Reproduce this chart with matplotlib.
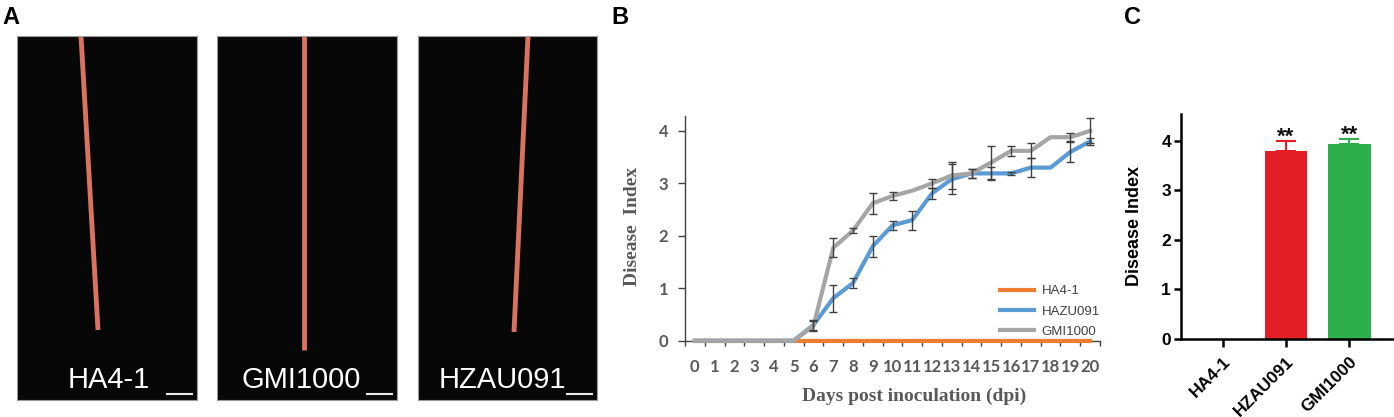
import numpy as np
import matplotlib.pyplot as plt

W, H = 1394, 417

# panel A: photo captions
photo_labels = ["HA4-1", "GMI1000", "HZAU091"]

# panel B: disease index per day post inoculation
days = list(range(21))
ha41 = [0, 0, 0, 0, 0, 0, 0, 0, 0, 0, 0, 0, 0, 0, 0, 0, 0, 0, 0, 0, 0]
hzau091 = [0, 0, 0, 0, 0, 0, 0.30, 0.81, 1.10, 1.80, 2.20, 2.30, 2.81, 3.08, 3.19, 3.19, 3.19, 3.30, 3.30, 3.60, 3.80]
hzau091_err = [0, 0, 0, 0, 0, 0, 0.09, 0.26, 0.09, 0.20, 0.09, 0.18, 0.10, 0.28, 0.09, 0.12, 0.03, 0.18, 0, 0.19, 0.07]
gmi1000 = [0, 0, 0, 0, 0, 0, 0.28, 1.77, 2.10, 2.62, 2.76, 2.86, 3.00, 3.15, 3.19, 3.40, 3.62, 3.62, 3.88, 3.88, 4.00]
gmi1000_err = [0, 0, 0, 0, 0, 0, 0.10, 0.18, 0.05, 0.20, 0.08, 0, 0.09, 0.25, 0.09, 0.31, 0.10, 0.14, 0, 0.08, 0.24]
legend_labels = ["HA4-1", "HAZU091", "GMI1000"]

# panel C: final disease index
strains = ["HA4-1", "HZAU091", "GMI1000"]
final_index = [0, 3.80, 3.93]
final_err = [0, 0.20, 0.12]
signif = ["", "**", "**"]


def fig_box(left, top, right, bottom):
    # pixel box -> figure fraction [l, b, w, h]
    return [left / W, 1 - bottom / H, (right - left) / W, (bottom - top) / H]


fig = plt.figure(figsize=(W / 100, H / 100), dpi=100)

# ---------- A: photo placeholders ----------
photo_x = [(16.7, 196.7), (217, 396.7), (418, 596.5)]
label_x = [109, 301, 502]
stakes = [((81, 36), (98, 330)), ((303.5, 36), (303.5, 350)), ((528, 36), (514, 332))]
for i, (l, r) in enumerate(photo_x):
    pax = fig.add_axes(fig_box(l, 36, r, 400))
    pax.set_facecolor("#070707")
    pax.set_xlim(l, r)
    pax.set_ylim(400, 36)
    pax.set_xticks([])
    pax.set_yticks([])
    for s in pax.spines.values():
        s.set_color("#9a9a9a")
        s.set_linewidth(0.8)
    (x0, y0), (x1, y1) = stakes[i]
    pax.plot([x0, x1], [y0, y1], color="#d9735f", lw=3.5, solid_capstyle="butt")
    pax.text(label_x[i], 388, photo_labels[i], color="white", fontsize=21,
             family="Liberation Sans", ha="center", va="baseline")
    pax.plot([r - 30, r - 5], [394, 394], color="#e8e8e8", lw=1.5)

# ---------- B: time course ----------
axb = fig.add_axes(fig_box(685, 115.7, 1100, 340.7))
gray_txt = "#595959"
l1, = axb.plot(days, ha41, color="#ED7D31", lw=3, clip_on=False, zorder=3)
l2, = axb.plot(days, hzau091, color="#5B9BD5", lw=3, clip_on=False, zorder=4)
l3, = axb.plot(days, gmi1000, color="#A5A5A5", lw=3, clip_on=False, zorder=5)

for vals, errs in [(hzau091, hzau091_err), (gmi1000, gmi1000_err)]:
    d = np.array(days)
    v = np.array(vals)
    e = np.array(errs)
    keep = e > 0
    axb.errorbar(d[keep], v[keep], yerr=e[keep], fmt="none", ecolor="#404040",
                 elinewidth=1, capsize=3, capthick=1, zorder=6)

axb.set_xlim(-0.5, 20.5)
axb.set_ylim(0, 4.29)
axb.spines["top"].set_visible(False)
axb.spines["right"].set_visible(False)
for s in ["left", "bottom"]:
    axb.spines[s].set_color("#404040")
    axb.spines[s].set_linewidth(1)
axb.set_xticks(days)
axb.set_xticks(np.arange(-0.5, 21, 1), minor=True)
axb.tick_params(axis="x", which="major", length=0, pad=13)
axb.tick_params(axis="x", which="minor", length=3.5, width=1, color="#404040", direction="out")
axb.set_yticks([0, 1, 2, 3, 4])
axb.tick_params(axis="y", length=5, width=1, color="#404040", pad=7)
for lab in axb.get_xticklabels() + axb.get_yticklabels():
    lab.set_family("Lato")
    lab.set_weight("bold")
    lab.set_fontsize(12)
    lab.set_color(gray_txt)

axb.set_xlabel("Days post inoculation (dpi)", family="Liberation Serif", weight="bold",
               fontsize=14, color=gray_txt)
axb.xaxis.set_label_coords(0.552, -0.21)
axb.set_ylabel("Disease  Index", family="Liberation Serif", weight="bold",
               fontsize=14, color=gray_txt)
axb.yaxis.set_label_coords(-0.106, 0.51)

axb.legend([l1, l2, l3], legend_labels, loc="upper left", bbox_to_anchor=(0.742, 0.276),
           frameon=False, borderpad=0, handlelength=2.6, handletextpad=0.6,
           labelspacing=0.6, prop={"family": "Liberation Sans", "size": 9.5},
           labelcolor="#404040")

# ---------- C: bars ----------
axc = fig.add_axes(fig_box(1180.7, 114.3, 1394, 338.7))
bar_colors = ["#E31E24", "#E31E24", "#2DB04B"]
xpos = np.arange(len(strains))
axc.bar(xpos, final_index, width=0.674, color=bar_colors, zorder=2)
for x, v, e, c, star in zip(xpos, final_index, final_err, bar_colors, signif):
    if e > 0:
        axc.errorbar(x, v, yerr=[[0], [e]], fmt="none", ecolor=c, elinewidth=1.5,
                     capsize=7.4, capthick=1.5, zorder=3)
    if star:
        axc.annotate(star, (x, v + e), xytext=(0, -1.5), textcoords="offset points",
                     ha="center", va="baseline", fontsize=16, weight="bold",
                     family="Liberation Sans", color="#111111")

axc.set_xlim(-0.665, 2.705)
axc.set_ylim(0, 4.54)
axc.spines["top"].set_visible(False)
axc.spines["right"].set_visible(False)
for s in ["left", "bottom"]:
    axc.spines[s].set_linewidth(1.8)
axc.set_yticks([0, 1, 2, 3, 4])
axc.set_yticklabels(["0", "1", "2", "3", "4"], family="Liberation Sans", weight="bold", fontsize=12.5)
axc.set_xticks(xpos)
axc.set_xticklabels(strains, rotation=45, ha="right", va="top", rotation_mode="anchor",
                    family="Liberation Sans", weight="bold", fontsize=12.5)
axc.tick_params(axis="y", length=5, width=1.8, pad=2, labelsize=12.5)
axc.tick_params(axis="x", length=6, width=1.8, pad=5, labelsize=12.5)
axc.set_ylabel("Disease Index", family="Liberation Sans", weight="bold", fontsize=13)
axc.yaxis.set_label_coords(-0.177, 0.502)

# panel letters
for letter, x in [("A", 2), ("B", 611), ("C", 1124)]:
    fig.text(x / W, 1 - 24 / H, letter, fontsize=17, weight="bold",
             family="Liberation Sans", ha="left", va="baseline")

fig.savefig("out.png", dpi=100)
